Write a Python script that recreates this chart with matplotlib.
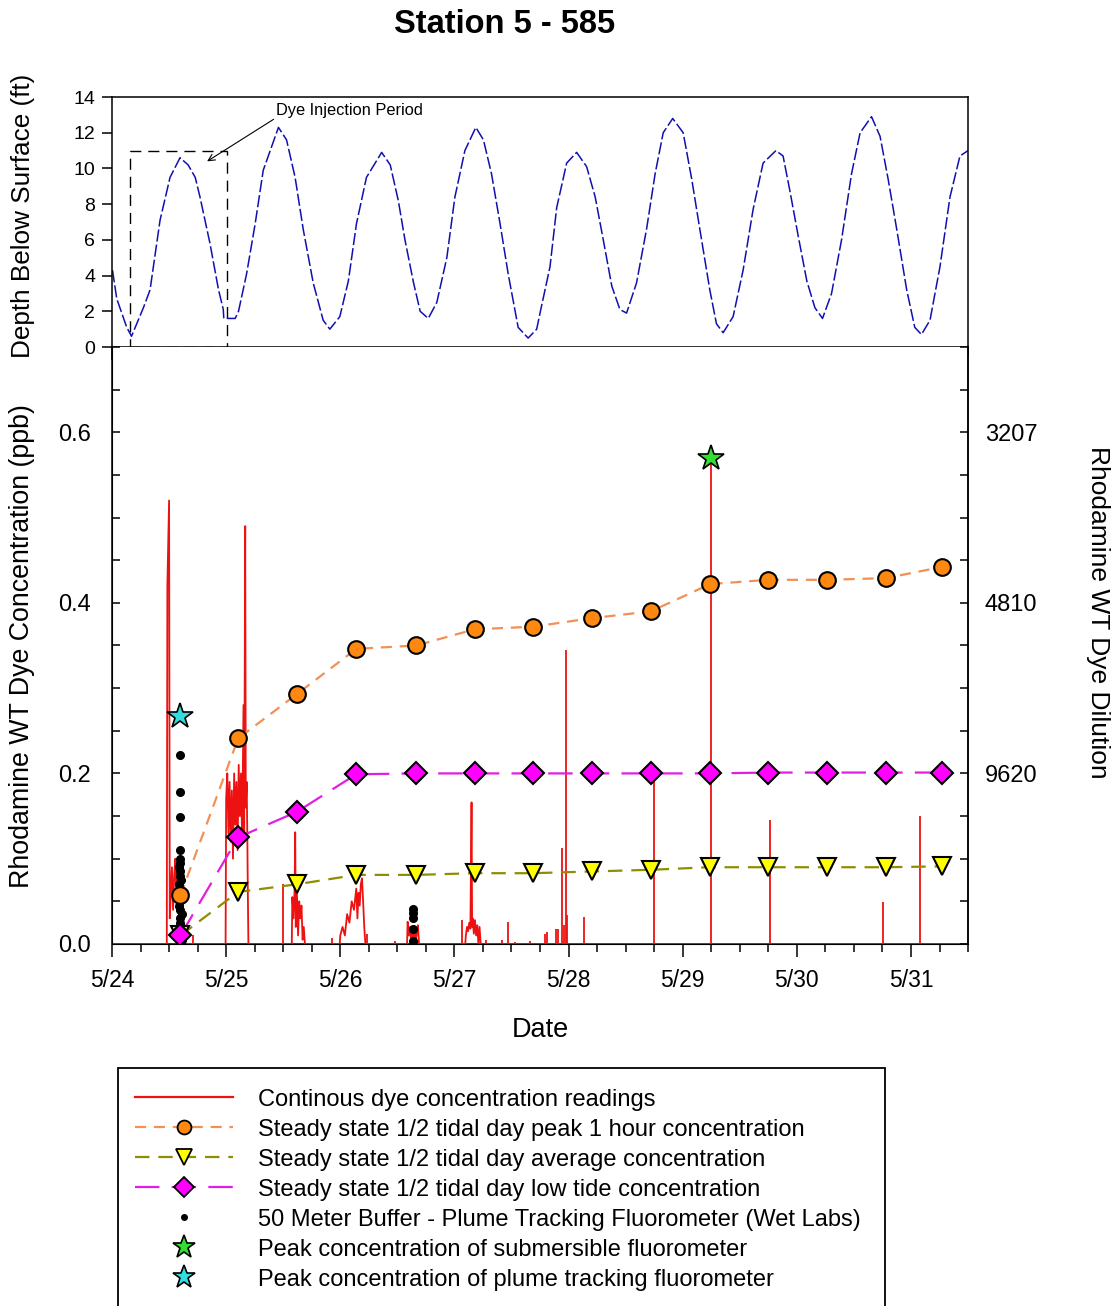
import matplotlib
matplotlib.use("Agg")
import matplotlib.pyplot as plt
from matplotlib.lines import Line2D
from matplotlib.patches import Rectangle
from matplotlib.ticker import MultipleLocator, FixedLocator

plt.rcParams["font.family"] = ["Liberation Sans", "DejaVu Sans"]

# ---- depth record: hours after 5/24 00:00, ft below surface ----
depth_hours = [0.1, 1.0, 3.1, 4.1, 6.6, 8.0, 10.1, 12.2, 14.3, 16.0, 17.5, 18.5, 20.6, 22.4,
               23.4, 23.5, 25.9, 26.6, 28.3, 30.1, 31.8, 35.0, 36.7, 38.5, 40.2, 42.3, 44.4,
               45.8, 47.9, 49.7, 51.4, 53.5, 56.7, 58.5, 60.2, 61.6, 63.4, 64.8, 66.5, 68.3,
               70.4, 72.1, 74.2, 76.5, 78.1, 79.8, 81.6, 83.3, 85.4, 87.5, 89.3, 90.0, 92.1,
               93.5, 95.6, 97.7, 99.8, 101.6, 103.3, 105.1, 106.8, 108.2, 110.3, 112.4, 114.2,
               115.9, 117.9, 120.1, 121.9, 123.6, 125.7, 127.1, 128.5, 130.6, 132.7, 134.8,
               136.9, 139.6, 141.1, 142.5, 144.3, 146.1, 147.8, 149.4, 151.3, 153.4, 155.5,
               157.3, 159.7, 161.5, 163.2, 165.0, 167.1, 168.8, 170.2, 172.0, 174.1, 176.2,
               178.3, 180.0]
depth_ft = [4.3, 2.7, 1.1, 0.6, 2.2, 3.2, 7.1, 9.5, 10.6, 10.2, 9.5, 8.4, 5.8, 3.2,
            2.1, 1.6, 1.6, 2.0, 4.1, 6.9, 9.9, 12.3, 11.6, 9.5, 6.6, 3.6, 1.5,
            1.0, 1.7, 3.7, 6.9, 9.5, 10.9, 10.2, 8.2, 6.0, 3.6, 2.0, 1.6, 2.5,
            5.0, 8.4, 11.0, 12.3, 11.6, 9.7, 6.9, 4.1, 1.1, 0.5, 1.0, 1.9, 4.5,
            7.8, 10.3, 10.9, 10.1, 8.4, 6.0, 3.4, 2.1, 1.9, 3.6, 6.6, 9.7,
            12.0, 12.8, 12.0, 9.4, 6.6, 3.2, 1.3, 0.8, 1.7, 4.3, 7.7,
            10.3, 11.0, 10.7, 8.8, 6.2, 3.7, 2.2, 1.6, 3.0, 6.0, 9.7,
            12.0, 12.9, 11.8, 9.4, 6.6, 3.2, 1.1, 0.7, 1.5, 4.5, 8.4,
            10.7, 11.0]

inj_start, inj_end, inj_top = 3.8, 24.1, 11.0

# ---- continuous dye readings: days after 5/24 00:00, ppb ----
dye_days = [0.0, 0.48, 0.485, 0.50, 0.506, 0.515, 0.525, 0.535, 0.545, 0.555, 0.565, 0.575,
            0.585, 0.595, 0.605, 0.615, 0.625,
            0.995, 1.0, 1.01, 1.02, 1.03, 1.04, 1.05, 1.06, 1.07, 1.08, 1.09, 1.10, 1.11,
            1.12, 1.13, 1.14, 1.152, 1.158, 1.167, 1.172, 1.18, 1.186, 1.19, 1.195,
            1.575, 1.58, 1.59, 1.60, 1.605, 1.61, 1.62, 1.63, 1.64, 1.65, 1.66, 1.67, 1.68, 1.69,
            1.995, 2.00, 2.02, 2.04, 2.06, 2.08, 2.10, 2.12, 2.14, 2.15, 2.16, 2.17, 2.18,
            2.19, 2.20, 2.21, 2.22,
            2.585, 2.59, 2.60, 2.61, 2.62, 2.63, 2.64, 2.65, 2.66, 2.67, 2.68, 2.69,
            3.095, 3.10, 3.11, 3.12, 3.13, 3.14, 3.15, 3.155, 3.16, 3.17, 3.18, 3.19, 3.20,
            3.21, 3.22, 3.23, 7.5]
dye_ppb = [0.0, 0.0, 0.42, 0.52, 0.03, 0.06, 0.09, 0.04, 0.08, 0.10, 0.05, 0.09,
           0.07, 0.03, 0.06, 0.02, 0.0,
           0.0, 0.17, 0.20, 0.13, 0.19, 0.12, 0.18, 0.10, 0.20, 0.14, 0.19, 0.11, 0.21,
           0.15, 0.20, 0.12, 0.28, 0.13, 0.49, 0.16, 0.19, 0.12, 0.06, 0.0,
           0.0, 0.055, 0.03, 0.065, 0.131, 0.02, 0.06, 0.01, 0.05, 0.03, 0.045, 0.005, 0.02, 0.0,
           0.0, 0.01, 0.02, 0.01, 0.035, 0.025, 0.05, 0.04, 0.065, 0.03, 0.06, 0.045, 0.07,
           0.077, 0.05, 0.02, 0.0,
           0.0, 0.026, 0.01, 0.02, 0.005, 0.015, 0.008, 0.018, 0.004, 0.012, 0.022, 0.0,
           0.0, 0.01, 0.02, 0.015, 0.025, 0.018, 0.166, 0.02, 0.03, 0.012, 0.028, 0.01, 0.022,
           0.0, 0.02, 0.0, 0.0]

# single-sample spikes in the same record
spike_days = [0.71, 1.495, 1.93, 2.235, 2.48, 3.07, 3.28, 3.42, 3.465, 3.535, 3.66, 3.79,
              3.81, 3.89, 3.905, 3.94, 3.956, 3.98, 3.99, 4.135, 4.75, 5.25, 5.763, 6.754, 7.08]
spike_ppb = [0.01, 0.07, 0.007, 0.012, 0.003, 0.028, 0.005, 0.005, 0.026, 0.002, 0.004, 0.012,
             0.014, 0.018, 0.017, 0.112, 0.022, 0.345, 0.034, 0.032, 0.200, 0.570, 0.145, 0.049, 0.150]

# ---- steady state 1/2 tidal day values ----
ss_days = [0.60, 1.105, 1.62, 2.14, 2.664, 3.178, 3.687, 4.202, 4.72, 5.24, 5.75, 6.263, 6.78, 7.27]
ss_peak = [0.057, 0.241, 0.293, 0.346, 0.350, 0.369, 0.372, 0.382, 0.390, 0.422, 0.427, 0.427, 0.429, 0.442]
ss_avg = [0.010, 0.061, 0.070, 0.081, 0.081, 0.083, 0.083, 0.085, 0.087, 0.090, 0.090, 0.090, 0.090, 0.091]
ss_low = [0.010, 0.125, 0.155, 0.199, 0.200, 0.200, 0.200, 0.200, 0.200, 0.200, 0.201, 0.201, 0.201, 0.201]

# ---- 50 m buffer plume tracking fluorometer ----
plume_days = [0.60, 0.60, 0.60, 0.60, 0.595, 0.60, 0.59, 0.60, 0.595, 0.605, 0.59, 0.60, 0.595,
              0.605, 0.60, 0.59, 0.60, 0.61, 0.595, 0.60, 0.605, 0.59, 0.60, 0.61, 0.60,
              2.64, 2.64, 2.64, 2.64, 2.64]
plume_ppb = [0.222, 0.178, 0.149, 0.110, 0.100, 0.095, 0.090, 0.085, 0.080, 0.075, 0.070, 0.065,
             0.060, 0.055, 0.050, 0.045, 0.040, 0.035, 0.030, 0.025, 0.020, 0.015, 0.010, 0.005,
             0.0, 0.041, 0.036, 0.031, 0.017, 0.003]

sub_peak_day, sub_peak_ppb = 5.25, 0.57
plume_peak_day, plume_peak_ppb = 0.60, 0.267

date_labels = ["5/24", "5/25", "5/26", "5/27", "5/28", "5/29", "5/30", "5/31"]
conc_ticks = [0.0, 0.2, 0.4, 0.6]
conc_labels = ["0.0", "0.2", "0.4", "0.6"]
dilution_ticks = [0.2, 0.4, 0.6]
dilution_labels = ["9620", "4810", "3207"]
depth_ticks = [0, 2, 4, 6, 8, 10, 12, 14]

RED = "#ee1111"
ORANGE_LINE = "#f29055"
ORANGE = "#ff8810"
OLIVE = "#8e8e00"
MAGENTA_LINE = "#e21ee2"
MAGENTA = "#ff00ff"

fig = plt.figure(figsize=(11.19, 13.06), dpi=100)
ax_top = fig.add_axes([0.1001, 0.7343, 0.7650, 0.1914])
ax = fig.add_axes([0.1001, 0.2772, 0.7650, 0.4571])

# ---- top panel: depth ----
ax_top.plot(depth_hours, depth_ft, color="#1010b0", lw=1.1, dashes=(8, 2))
ax_top.add_patch(Rectangle((inj_start, 0), inj_end - inj_start, inj_top, fill=False,
                           ec="black", lw=1.0, ls=(0, (8, 5)), clip_on=False))
ax_top.annotate("Dye Injection Period", xy=(20.0, 10.4), xytext=(50.0, 13.27),
                ha="center", va="center", fontsize=11.8,
                arrowprops=dict(arrowstyle="->", lw=0.8, color="black",
                                relpos=(0, 0), shrinkA=0, shrinkB=0))
ax_top.set_xlim(0, 180)
ax_top.set_ylim(0, 14)
ax_top.xaxis.set_major_locator(MultipleLocator(40))
ax_top.xaxis.set_minor_locator(MultipleLocator(10))
ax_top.set_xticklabels([])
ax_top.yaxis.set_major_locator(FixedLocator(depth_ticks))
ax_top.set_yticklabels([str(t) for t in depth_ticks])
ax_top.tick_params(axis="both", which="both", direction="out", width=1.1, labelsize=14, pad=5)
ax_top.tick_params(axis="x", which="major", length=9)
ax_top.tick_params(axis="x", which="minor", length=6)
ax_top.tick_params(axis="y", which="major", length=7)
for s in ax_top.spines.values():
    s.set_linewidth(1.1)

# ---- bottom panel: concentration ----
ax.plot(dye_days, dye_ppb, color=RED, lw=1.3, zorder=2.6, clip_on=False)
ax.vlines(spike_days, 0, spike_ppb, color=RED, lw=1.3, zorder=2.6)
ax.plot(ss_days, ss_peak, color=ORANGE_LINE, lw=1.6, dashes=(5, 3.5), zorder=3)
ax.plot(ss_days, ss_avg, color=OLIVE, lw=1.6, dashes=(6.5, 4), zorder=3)
ax.plot(ss_days, ss_low, color=MAGENTA_LINE, lw=1.6, dashes=(11, 5.5), zorder=3)
ax.plot(plume_days, plume_ppb, ls="none", marker="o", ms=5.5, color="black", zorder=4)
ax.plot(ss_days, ss_avg, ls="none", marker="v", ms=13, mfc="#ffff00", mec="black", mew=1.5, zorder=5)
ax.plot(ss_days, ss_peak, ls="none", marker="o", ms=12, mfc=ORANGE, mec="black", mew=1.5, zorder=5)
ax.plot(ss_days, ss_low, ls="none", marker="D", ms=11, mfc=MAGENTA, mec="black", mew=1.5, zorder=5)
ax.plot([sub_peak_day], [sub_peak_ppb], ls="none", marker="*", ms=19, mfc="#33dd33", mec="black",
        mew=1.2, zorder=6)
ax.plot([plume_peak_day], [plume_peak_ppb], ls="none", marker="*", ms=19, mfc="#33dddd", mec="black",
        mew=1.2, zorder=6)

ax.set_xlim(0, 7.5)
ax.set_ylim(0, 0.7)
ax.xaxis.set_major_locator(FixedLocator(range(len(date_labels))))
ax.set_xticklabels(date_labels)
ax.xaxis.set_minor_locator(MultipleLocator(0.25))
ax.yaxis.set_major_locator(FixedLocator(conc_ticks))
ax.set_yticklabels(conc_labels)
ax.yaxis.set_minor_locator(MultipleLocator(0.05))
ax.tick_params(axis="x", which="both", direction="out", width=1.1, labelsize=16.5, pad=9)
ax.tick_params(axis="x", which="major", length=9)
ax.tick_params(axis="x", which="minor", length=6)
ax.tick_params(axis="y", which="both", direction="in", length=6, width=1.1, labelsize=17, pad=15)
ax.spines["top"].set_visible(False)
for s in ["left", "right", "bottom"]:
    ax.spines[s].set_linewidth(1.1)

ax2 = ax.twinx()
ax2.set_ylim(0, 0.7)
ax2.yaxis.set_major_locator(FixedLocator(dilution_ticks))
ax2.set_yticklabels(dilution_labels)
ax2.yaxis.set_minor_locator(MultipleLocator(0.05))
ax2.tick_params(axis="y", which="both", direction="in", length=6, width=1.1, labelsize=17, pad=12)
ax2.spines["top"].set_visible(False)
ax2.spines["right"].set_linewidth(1.1)

# ---- text ----
fig.text(0.4513, 0.9810, "Station 5 - 585", fontsize=23.5, fontweight="bold", ha="center", va="center")
fig.text(0.0205, 0.8346, "Depth Below Surface (ft)", fontsize=18.8, rotation=90, ha="center", va="center")
fig.text(0.0200, 0.5055, "Rhodamine WT Dye Concentration (ppb)", fontsize=19.3, rotation=90,
         ha="center", va="center")
fig.text(0.9810, 0.5310, "Rhodamine WT Dye Dilution", fontsize=19.0, rotation=270, ha="center", va="center")
fig.text(0.4826, 0.2113, "Date", fontsize=19.5, ha="center", va="center")

# ---- legend ----
handles = [
    Line2D([], [], color=RED, lw=1.6),
    Line2D([], [], color=ORANGE_LINE, lw=1.6, dashes=(5, 3.5), marker="o", ms=10, mfc=ORANGE,
           mec="black", mew=1.3),
    Line2D([], [], color=OLIVE, lw=1.6, dashes=(6.5, 4), marker="v", ms=11, mfc="#ffff00",
           mec="black", mew=1.3),
    Line2D([], [], color=MAGENTA_LINE, lw=1.6, dashes=(11, 5.5), marker="D", ms=10, mfc=MAGENTA,
           mec="black", mew=1.3),
    Line2D([], [], ls="none", marker="o", ms=4, color="black"),
    Line2D([], [], ls="none", marker="*", ms=17, mfc="#33dd33", mec="black", mew=1.2),
    Line2D([], [], ls="none", marker="*", ms=17, mfc="#33dddd", mec="black", mew=1.2),
]
labels = [
    "Continous dye concentration readings",
    "Steady state 1/2 tidal day peak 1 hour concentration",
    "Steady state 1/2 tidal day average concentration",
    "Steady state 1/2 tidal day low tide concentration",
    "50 Meter Buffer - Plume Tracking Fluorometer (Wet Labs)",
    "Peak concentration of submersible fluorometer",
    "Peak concentration of plume tracking fluorometer",
]
fig.legend(handles, labels, loc="upper left", bbox_to_anchor=(0.1206, 0.1665), frameon=False,
           fontsize=17, handlelength=4.15, handletextpad=1.05, labelspacing=0.34,
           borderpad=0, borderaxespad=0, numpoints=1)
fig.add_artist(Rectangle((0.1054, -0.05), 0.6854, 0.2322, transform=fig.transFigure,
                         fill=False, ec="black", lw=1.3))

fig.savefig("out.png", dpi=100)
